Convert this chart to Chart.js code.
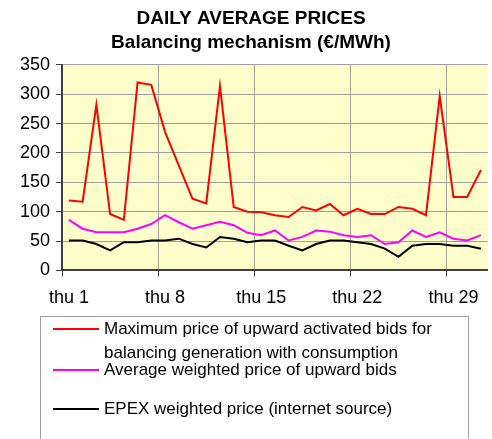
<!DOCTYPE html>
<html>
<head>
<meta charset="utf-8">
<script src="https://cdn.jsdelivr.net/npm/chart.js@4.4.1/dist/chart.umd.min.js"></script>
<style>
  body { margin: 0; background: #fff; font-family: "Liberation Sans", Arial, sans-serif; }
  #wrap { position: relative; width: 492px; height: 439px; overflow: hidden; }
  #chartBox { position: absolute; left: 0; top: 0; width: 492px; height: 320px; }
  #legend {
    position: absolute; left: 40px; top: 316px; width: 427px; height: 140px;
    border: 1px solid #a0a0a0; font-size: 17px; line-height: 24px; color: #000;
  }
  .row { position: relative; padding-left: 63px; width: 300px; }
  .row .swatch { position: absolute; left: 12px; top: 11px; width: 46px; height: 2px; }
</style>
</head>
<body>
<div id="wrap">
  <div id="chartBox"><canvas id="priceChart"></canvas></div>
  <div id="legend"></div>
</div>
<script>
// days of the month, day 1 is a thursday
const days = [1,2,3,4,5,6,7,8,9,10,11,12,13,14,15,16,17,18,19,20,21,22,23,24,25,26,27,28,29,30,31];
const tickDays = {1: 'thu 1', 8: 'thu 8', 15: 'thu 15', 22: 'thu 22', 29: 'thu 29'};

const maxUpward = [119,117,282,96,86,320,316,236,179,122,114,314,108,100,99,94,91,108,102,113,94,105,96,96,108,105,94,297,125,125,171];
const avgUpward = [86,71,65,65,65,71,79,94,82,71,77,83,77,64,60,68,51,57,68,66,60,57,60,45,48,68,57,65,54,51,60];
const epex = [51,51,45,34,48,48,51,51,54,45,39,57,54,48,51,51,42,34,45,51,51,48,45,37,23,42,45,45,42,42,37];

const font = '"Liberation Sans", Arial, sans-serif';

// yellow plot area
const plotBg = {
  id: 'plotBg',
  beforeDraw(chart) {
    const { ctx, chartArea: a } = chart;
    ctx.save();
    ctx.fillStyle = '#ffffcc';
    ctx.fillRect(a.left, a.top, a.right - a.left, a.bottom - a.top);
    ctx.restore();
  }
};

const ctx = document.getElementById('priceChart').getContext('2d');
const chart = new Chart(ctx, {
  type: 'line',
  data: {
    labels: days,
    datasets: [
      { label: 'Maximum price of upward activated bids for balancing generation with consumption', data: maxUpward, borderColor: '#ff0000' },
      { label: 'Average weighted price of upward bids', data: avgUpward, borderColor: '#ff00ff' },
      { label: 'EPEX weighted price (internet source)', data: epex, borderColor: '#000000' }
    ]
  },
  options: {
    responsive: true,
    maintainAspectRatio: false,
    animation: false,
    elements: {
      line: { borderWidth: 2, tension: 0 },
      point: { radius: 0 }
    },
    layout: { padding: { left: 14, right: 4, top: 5, bottom: 0 } },
    plugins: {
      legend: { display: false },
      tooltip: { enabled: false },
      title: {
        display: true,
        text: ['DAILY AVERAGE PRICES', 'Balancing mechanism (€/MWh)'],
        color: '#000',
        font: { family: font, size: 19, weight: 'bold', lineHeight: 1.26 },
        padding: { top: 2, bottom: 10 }
      }
    },
    scales: {
      x: {
        offset: true,
        grid: {
          offset: true,
          color: c => (c.index % 7 === 0 || c.index === days.length) ? '#a0a0a0' : 'transparent',
          tickColor: c => (c.index % 7 === 0 || c.index === days.length) ? '#404040' : 'transparent',
          tickLength: 6
        },
        border: { color: '#404040', width: 2 },
        ticks: {
          autoSkip: false,
          maxRotation: 0,
          color: '#000',
          padding: 11,
          font: { family: font, size: 18 },
          callback: (v, i) => tickDays[days[i]] || ''
        }
      },
      y: {
        min: 0,
        max: 350,
        grid: { color: '#a0a0a0', tickColor: '#404040', tickLength: 6 },
        border: { color: '#404040', width: 2 },
        ticks: {
          stepSize: 50,
          color: '#000',
          padding: 6,
          font: { family: font, size: 18 }
        }
      }
    }
  },
  plugins: [plotBg]
});

// html legend built from the datasets
const legend = document.getElementById('legend');
const gaps = [0, -7, 15];
chart.data.datasets.forEach((ds, i) => {
  const row = document.createElement('div');
  row.className = 'row';
  row.style.marginTop = gaps[i] + 'px';
  if (i === 0) row.style.width = '350px';
  row.innerHTML = '<span class="swatch" style="background:' + ds.borderColor + '"></span>' + ds.label;
  legend.appendChild(row);
});
</script>
</body>
</html>
